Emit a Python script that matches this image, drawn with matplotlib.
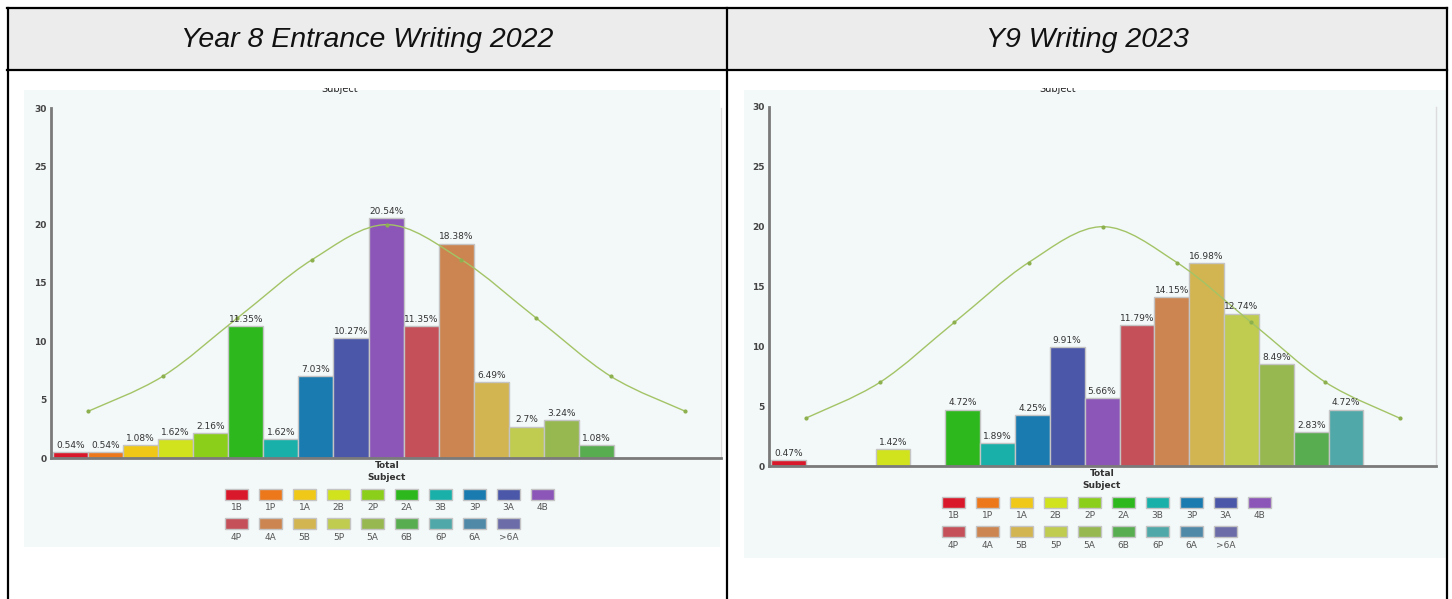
import numpy as np
import matplotlib
matplotlib.use('Agg')
import matplotlib.pyplot as plt
from matplotlib.patches import Rectangle, PathPatch
from matplotlib.path import Path
from matplotlib.lines import Line2D
from matplotlib.transforms import Bbox, TransformedBbox

W, H = 1452, 599

# 数据
grades = ['1B', '1P', '1A', '2B', '2P', '2A', '3B', '3P', '3A', '4B',
          '4P', '4A', '5B', '5P', '5A', '6B', '6P', '6A', '>6A']
grade_colors = ['#d9192b', '#ec781b', '#f0c918', '#d1e31c', '#8ccf1a',
                '#2db81d', '#18b0a8', '#1a7bb0', '#4b57a8', '#8b56b8',
                '#c5505a', '#cc8550', '#d2b550', '#bfcc50', '#97b850',
                '#57ad50', '#50a8a8', '#5088a8', '#6c6ca8']
pct_2022 = [0.54, 0.54, 1.08, 1.62, 2.16, 11.35, 1.62, 7.03, 10.27, 20.54,
            11.35, 18.38, 6.49, 2.7, 3.24, 1.08, 0, 0, 0]
pct_2023 = [0.47, 0, 0, 1.42, 0, 4.72, 1.89, 4.25, 9.91, 5.66,
            11.79, 14.15, 16.98, 12.74, 8.49, 2.83, 4.72, 0, 0]
curve_x = [1.0, 3.13, 5.26, 7.39, 9.52, 11.65, 13.78, 15.91, 18.04]
curve_y = [4, 7, 12, 17, 20, 17, 12, 7, 4]
titles = ['Year 8 Entrance Writing 2022', 'Y9 Writing 2023']
yticks = [0, 5, 10, 15, 20, 25, 30]


def fx(x):
    return x / W


def fy(y):
    return 1 - y / H


def smooth_path(xs, ys):
    # Catmull-Rom -> Bezier
    pts = np.column_stack([xs, ys]).astype(float)
    verts = [pts[0]]
    codes = [Path.MOVETO]
    n = len(pts)
    for i in range(n - 1):
        p0 = pts[max(i - 1, 0)]
        p1 = pts[i]
        p2 = pts[i + 1]
        p3 = pts[min(i + 2, n - 1)]
        c1 = p1 + (p2 - p0) / 6
        c2 = p2 - (p3 - p1) / 6
        verts += [c1, c2, p2]
        codes += [Path.CURVE4] * 3
    return Path(verts, codes)


fig = plt.figure(figsize=(W / 100, H / 100), dpi=100)

# 表格背景和标题
fig.patches.append(Rectangle((fx(8), fy(70)), fx(1446 - 8), 62 / H,
                             transform=fig.transFigure, facecolor='#ececec',
                             edgecolor='none', zorder=-2))
for cx, title in zip([367, 1087], titles):
    fig.text(fx(cx), fy(40), title, ha='center', va='center', fontsize=20.5,
             style='italic', family='Liberation Sans', color='#111111')

# 每个面板的位置参数
panels = [
    dict(bg=(24, 90, 720, 547), axx=(51, 721), axy=(108, 458), x0=53, bw=35.06,
         leg=(225, 489), total=(387, 466), subj=(340, 92, 24, 720), data=pct_2022),
    dict(bg=(744, 90, 1447, 558), axx=(769, 1436), axy=(107, 466), x0=771, bw=34.85,
         leg=(942, 497), total=(1102, 474), subj=(1058, 92, 744, 1447), data=pct_2023),
]

for p in panels:
    bx0, by0, bx1, by1 = p['bg']
    fig.patches.append(Rectangle((fx(bx0), fy(by1)), fx(bx1 - bx0), (by1 - by0) / H,
                                 transform=fig.transFigure, facecolor='#f3f8f8',
                                 edgecolor='none', zorder=-2))

    ax0, ax1 = p['axx']
    ay0, ay1 = p['axy']
    ax = fig.add_axes([fx(ax0), fy(ay1), fx(ax1 - ax0), (ay1 - ay0) / H])
    ax.set_zorder(2)
    ax.set_facecolor('none')
    ax.set_xlim((ax0 - p['x0']) / p['bw'], (ax1 - p['x0']) / p['bw'])
    ax.set_ylim(0, 30)

    vals = p['data']
    xs = np.arange(len(grades))
    ax.bar(xs, vals, width=1, align='edge', color=grade_colors,
           edgecolor='#c4c4c4', linewidth=1, zorder=2)
    for i, v in enumerate(vals):
        if v > 0:
            ax.annotate('%g%%' % v, (i + 0.5, v), xytext=(0, 1.5),
                        textcoords='offset points', ha='center', va='bottom',
                        fontsize=6.5, color='#333333', zorder=4)

    # 正态曲线
    ax.add_patch(PathPatch(smooth_path(curve_x, curve_y), facecolor='none',
                           edgecolor='#a3c466', linewidth=1, zorder=3))
    ax.plot(curve_x, curve_y, 'o', color='#8db04e', markersize=2, zorder=3)

    ax.spines['top'].set_visible(False)
    ax.spines['right'].set_color('#dcdcdc')
    ax.spines['right'].set_linewidth(1)
    ax.spines['left'].set_color('#7a7a7a')
    ax.spines['left'].set_linewidth(2)
    ax.spines['bottom'].set_color('#7a7a7a')
    ax.spines['bottom'].set_linewidth(2)
    ax.set_xticks([])
    ax.set_yticks(yticks)
    ax.tick_params(axis='y', length=0, pad=3, labelsize=6.5, labelcolor='#444444')
    for lab in ax.get_yticklabels():
        lab.set_fontweight('bold')

    tx, ty = p['total']
    fig.text(fx(tx), fy(ty), 'Total', ha='center', va='center', fontsize=6.5,
             fontweight='bold', color='#333333')
    fig.text(fx(tx), fy(ty + 11), 'Subject', ha='center', va='center', fontsize=6.5,
             fontweight='bold', color='#333333')

    # 顶部被裁掉的 Subject
    sx, sy, cx0, cx1 = p['subj']
    t = fig.text(fx(sx), fy(sy), 'Subject', ha='center', va='baseline',
                 fontsize=7, color='#222222')
    t.set_clip_on(True)
    t.set_clip_box(TransformedBbox(Bbox.from_extents(fx(cx0), fy(sy + 5), fx(cx1), fy(sy - 4)),
                                   fig.transFigure))

    # 图例
    lx, ly = p['leg']
    for k, (g, c) in enumerate(zip(grades, grade_colors)):
        row, col = divmod(k, 10)
        x = lx + col * 34
        y = ly + row * 29
        fig.patches.append(Rectangle((fx(x), fy(y + 11)), fx(23), 11 / H,
                                     transform=fig.transFigure, facecolor=c,
                                     edgecolor='#c4c4c4', linewidth=1, zorder=1))
        fig.text(fx(x + 11.5), fy(y + 19), g, ha='center', va='center',
                 fontsize=6.5, color='#555555')

# 表格线
lw = 1.6
for (x0, y0, x1, y1) in [(7, 8, 1447, 8), (7, 70, 1447, 70), (8, 8, 8, 599),
                         (727, 8, 727, 599), (1447, 8, 1447, 599)]:
    fig.add_artist(Line2D([fx(x0), fx(x1)], [fy(y0), fy(y1)], color='black',
                          linewidth=lw, transform=fig.transFigure, zorder=5))

fig.savefig('out.png', dpi=100)
